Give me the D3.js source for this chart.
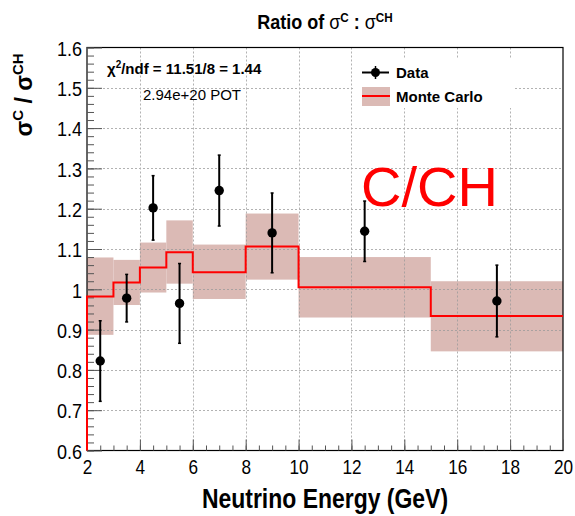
<!DOCTYPE html>
<html><head><meta charset="utf-8">
<script src="https://cdn.jsdelivr.net/npm/d3@7"></script>
<style>body{margin:0;background:#fff}svg{display:block}</style>
</head><body>
<svg id="c" width="575" height="516"></svg>
<script>
// ---- data ----
const binEdges = [2, 3, 4, 5, 6, 8, 10, 15, 20];
const mcValues = [0.982, 1.017, 1.054, 1.092, 1.042, 1.106, 1.005, 0.934];
const mcHigh   = [1.079, 1.073, 1.116, 1.171, 1.111, 1.188, 1.080, 1.020];
const mcLow    = [0.887, 0.961, 0.992, 1.014, 0.976, 1.024, 0.930, 0.846];
const dataX    = [2.5, 3.5, 4.5, 5.5, 7, 9, 12.5, 17.5];
const dataY    = [0.822, 0.978, 1.202, 0.965, 1.245, 1.140, 1.144, 0.971];
const dataErr  = [0.100, 0.059, 0.080, 0.099, 0.088, 0.099, 0.075, 0.089];
const xTicks   = [2, 4, 6, 8, 10, 12, 14, 16, 18, 20];
const yTicks   = [0.6, 0.7, 0.8, 0.9, 1.0, 1.1, 1.2, 1.3, 1.4, 1.5, 1.6];
const yTickLabels = ["0.6","0.7","0.8","0.9","1","1.1","1.2","1.3","1.4","1.5","1.6"];

const svg = d3.select("#c");
const L = 87, R = 563, T = 47.5, B = 450.5;
const x = d3.scaleLinear().domain([2, 20]).range([L, R]);
const y = d3.scaleLinear().domain([0.6, 1.6]).range([B, T]);
const sans = "'Liberation Sans', Arial, Helvetica, sans-serif";
// horizontal condensing about an anchor x
const squeeze = (ax, f) => `translate(${ax},0) scale(${f},1) translate(${-ax},0)`;

// MC band
const bins = mcValues.map((v, i) => ({x0: binEdges[i], x1: binEdges[i+1], v, lo: mcLow[i], hi: mcHigh[i]}));
svg.append("g").selectAll("rect").data(bins).join("rect")
  .attr("x", d => x(d.x0)).attr("width", d => x(d.x1) - x(d.x0))
  .attr("y", d => y(d.hi)).attr("height", d => y(d.lo) - y(d.hi))
  .attr("fill", "#dbbab5");

// grid
const grid = svg.append("g").attr("stroke", "#999").attr("stroke-width", 1).attr("stroke-dasharray", "2,2").attr("opacity", 0.75);
grid.selectAll(".gx").data(xTicks.slice(1, -1)).join("line")
  .attr("x1", d => Math.round(x(d)) + 0.5).attr("x2", d => Math.round(x(d)) + 0.5)
  .attr("y1", T).attr("y2", B);
grid.selectAll(".gy").data(yTicks.slice(1, -1)).join("line")
  .attr("y1", d => Math.round(y(d)) + 0.5).attr("y2", d => Math.round(y(d)) + 0.5)
  .attr("x1", L).attr("x2", R);

// legend box (white) covering grid
svg.append("rect").attr("x", 354).attr("y", 58).attr("width", 161).attr("height", 50).attr("fill", "#fff");

// frame
svg.append("rect").attr("x", L).attr("y", T).attr("width", R - L).attr("height", B - T)
  .attr("fill", "none").attr("stroke", "#000").attr("stroke-width", 1.2);

// ticks (inside)
function styleTicks(g) { g.select(".domain").remove(); g.selectAll("line").attr("stroke", "#555"); }
const yMinor = d3.range(0, 51).map(i => 0.6 + i * 0.02);
const xMinor = d3.range(0, 37).map(i => 2 + i * 0.5);
svg.append("g").attr("transform", `translate(${L},0)`)
  .call(d3.axisRight(y).tickValues(yMinor).tickSize(7).tickFormat("")).call(styleTicks);
svg.append("g").attr("transform", `translate(${L},0)`)
  .call(d3.axisRight(y).tickValues(yTicks).tickSize(15).tickFormat("")).call(styleTicks);
svg.append("g").attr("transform", `translate(0,${B})`)
  .call(d3.axisTop(x).tickValues(xMinor).tickSize(5).tickFormat("")).call(styleTicks);
svg.append("g").attr("transform", `translate(0,${B})`)
  .call(d3.axisTop(x).tickValues(xTicks).tickSize(11).tickFormat("")).call(styleTicks);

// tick labels
const yl = svg.append("g").attr("transform", `translate(${L},0)`)
  .call(d3.axisLeft(y).tickValues(yTicks).tickSize(0).tickPadding(5).tickFormat((d, i) => yTickLabels[i]));
yl.select(".domain").remove();
yl.selectAll("text").attr("font-family", sans).attr("font-size", 21).attr("fill", "#000").attr("dy", "0.37em")
  .attr("transform", squeeze(-5, 0.86));
const xl = svg.append("g").attr("transform", `translate(0,${B})`)
  .call(d3.axisBottom(x).tickValues(xTicks).tickSize(0).tickPadding(9).tickFormat(d3.format("d")));
xl.select(".domain").remove();
xl.selectAll("text").attr("font-family", sans).attr("font-size", 20).attr("fill", "#000")
  .attr("transform", squeeze(0, 0.86));

// MC step line
const stepPts = [[binEdges[0], 0.6]];
bins.forEach(d => { stepPts.push([d.x0, d.v]); stepPts.push([d.x1, d.v]); });
svg.append("path").datum(stepPts)
  .attr("d", d3.line().x(d => x(d[0])).y(d => y(d[1])))
  .attr("fill", "none").attr("stroke", "#ff0000").attr("stroke-width", 2);

// data points
const pts = dataX.map((xv, i) => ({x: xv, y: dataY[i], e: dataErr[i]}));
const pg = svg.append("g");
pg.selectAll(".eb").data(pts).join("line")
  .attr("x1", d => x(d.x)).attr("x2", d => x(d.x))
  .attr("y1", d => y(d.y + d.e)).attr("y2", d => y(d.y - d.e))
  .attr("stroke", "#000").attr("stroke-width", 2);
pg.selectAll(".cap1").data(pts).join("line")
  .attr("x1", d => x(d.x) - 1.5).attr("x2", d => x(d.x) + 1.5)
  .attr("y1", d => y(d.y + d.e)).attr("y2", d => y(d.y + d.e))
  .attr("stroke", "#000").attr("stroke-width", 1.5);
pg.selectAll(".cap2").data(pts).join("line")
  .attr("x1", d => x(d.x) - 1.5).attr("x2", d => x(d.x) + 1.5)
  .attr("y1", d => y(d.y - d.e)).attr("y2", d => y(d.y - d.e))
  .attr("stroke", "#000").attr("stroke-width", 1.5);
pg.selectAll("circle").data(pts).join("circle")
  .attr("cx", d => x(d.x)).attr("cy", d => y(d.y)).attr("r", 4.7).attr("fill", "#000");

// legend
const lg = svg.append("g");
lg.append("line").attr("x1", 362).attr("x2", 389).attr("y1", 72.5).attr("y2", 72.5).attr("stroke", "#000").attr("stroke-width", 2);
lg.append("line").attr("x1", 375.5).attr("x2", 375.5).attr("y1", 66).attr("y2", 79).attr("stroke", "#000").attr("stroke-width", 1.5);
lg.append("circle").attr("cx", 375.5).attr("cy", 72.5).attr("r", 4.5).attr("fill", "#000");
lg.append("text").attr("x", 396).attr("y", 78).text("Data")
  .attr("font-family", sans).attr("font-weight", "bold").attr("font-size", 15);
lg.append("rect").attr("x", 362).attr("y", 87).attr("width", 28).attr("height", 19).attr("fill", "#dbbab5");
lg.append("line").attr("x1", 362).attr("x2", 390).attr("y1", 96).attr("y2", 96).attr("stroke", "#ff0000").attr("stroke-width", 2);
lg.append("text").attr("x", 396).attr("y", 102).text("Monte Carlo")
  .attr("font-family", sans).attr("font-weight", "bold").attr("font-size", 15);

// chi2 + POT
const chi = svg.append("text").attr("x", 107).attr("y", 73.5)
  .attr("font-family", sans).attr("font-weight", "bold").attr("font-size", 15);
chi.append("tspan").text("χ");
chi.append("tspan").attr("font-size", 10).attr("dy", -6).text("2");
chi.append("tspan").attr("dy", 6).text("/ndf = 11.51/8 = 1.44");
svg.append("text").attr("x", 143).attr("y", 99.5).text("2.94e+20 POT")
  .attr("font-family", sans).attr("font-size", 15);

// big C/CH
svg.append("text").attr("x", 361).attr("y", 205.5).text("C/CH")
  .attr("font-family", sans).attr("font-size", 56).attr("fill", "#ff0000");

// title
const tt = svg.append("text").attr("x", 325).attr("y", 29).attr("text-anchor", "middle")
  .attr("font-family", sans).attr("font-weight", "bold").attr("font-size", 20)
  .attr("transform", squeeze(325, 0.9));
tt.append("tspan").text("Ratio of ");
tt.append("tspan").attr("font-weight", "normal").text("σ");
tt.append("tspan").attr("font-size", 13).attr("dy", -7).text("C");
tt.append("tspan").attr("dy", 7).text(" : ");
tt.append("tspan").attr("font-weight", "normal").text("σ");
tt.append("tspan").attr("font-size", 13).attr("dy", -7).text("CH");

// x axis title
svg.append("text").attr("x", 325).attr("y", 508).attr("text-anchor", "middle")
  .attr("font-family", sans).attr("font-weight", "bold").attr("font-size", 28)
  .attr("transform", squeeze(325, 0.82)).text("Neutrino Energy (GeV)");

// y axis title
const yt = svg.append("text").attr("transform", "translate(32,95) rotate(-90)").attr("text-anchor", "middle")
  .attr("font-family", sans).attr("font-weight", "bold").attr("font-size", 23);
yt.append("tspan").text("σ");
yt.append("tspan").attr("font-size", 15).attr("dy", -9).text("C");
yt.append("tspan").attr("dy", 9).text(" / ");
yt.append("tspan").text("σ");
yt.append("tspan").attr("font-size", 15).attr("dy", -9).text("CH");
</script>
</body></html>
